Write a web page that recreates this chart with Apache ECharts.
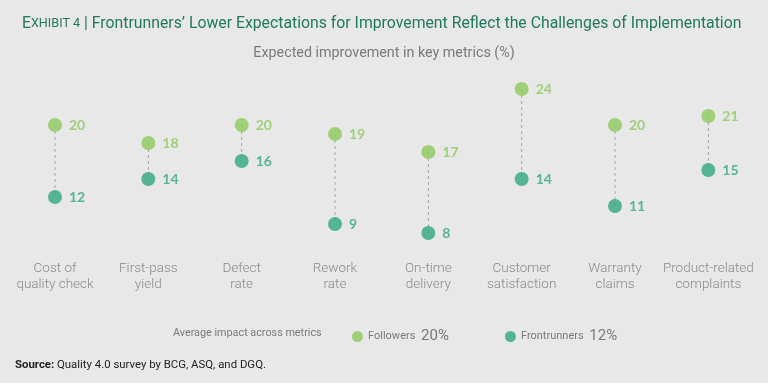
<!DOCTYPE html>
<html>
<head>
<meta charset="utf-8">
<script src="https://cdn.jsdelivr.net/npm/echarts@6/dist/echarts.min.js"></script>
<style>
html,body{margin:0;padding:0;background:#fff;}
#chart{width:768px;height:383px;}
</style>
</head>
<body>
<div id="chart"></div>
<script>
const categories = ['Cost of\nquality check', 'First-pass\nyield', 'Defect\nrate', 'Rework\nrate', 'On-time\ndelivery', 'Customer\nsatisfaction', 'Warranty\nclaims', 'Product-related\ncomplaints'];
const followers = [20, 18, 20, 19, 17, 24, 20, 21];
const frontrunners = [12, 14, 16, 9, 8, 14, 11, 15];
const followersAvg = 20;
const frontrunnersAvg = 12;

const FONT = 'Roboto';
const cFollow = '#8cc85a';
const cFront = '#30a681';
const avgMap = { 'Followers': followersAvg, 'Frontrunners': frontrunnersAvg };

const chart = echarts.init(document.getElementById('chart'));
chart.setOption({
  backgroundColor: '#e8e8e9',
  animation: false,
  textStyle: { fontFamily: FONT },
  title: [{
    left: 17, top: 11,
    text: '{e|E}{s|XHIBIT 4}{b| | }{t|Frontrunners’ Lower Expectations for Improvement Reflect the Challenges of Implementation}',
    textStyle: {
      fontWeight: 'normal',
      rich: {
        e: { fontFamily: FONT, fontSize: 15.8, fontWeight: 'normal', color: '#1f7a5c' },
        s: { fontFamily: FONT, fontSize: 12.6, fontWeight: 'normal', color: '#1f7a5c' },
        b: { fontFamily: FONT, fontSize: 15.8, fontWeight: 'normal', color: '#1f7a5c' },
        t: { fontFamily: FONT, fontSize: 15.8, fontWeight: 'normal', color: '#1f7a5c' }
      }
    }
  }, {
    left: 'center', top: 41,
    text: 'Expected improvement in key metrics (%)',
    textStyle: { fontFamily: FONT, fontSize: 14.3, fontWeight: 'normal', color: '#7a7a7a' }
  }],
  grid: { left: 8.33, right: 13, top: 71, bottom: 132 },
  xAxis: {
    type: 'category', data: categories,
    axisLine: { show: false }, axisTick: { show: false }, splitLine: { show: false },
    axisLabel: { color: '#8a8a8a', fontSize: 13.5, lineHeight: 16, margin: 10, interval: 0, fontFamily: FONT, fontWeight: 300 }
  },
  yAxis: { type: 'value', min: 6, max: 26, show: false },
  legend: {
    left: 347, top: 324, itemWidth: 11, itemHeight: 11, itemGap: 56, icon: 'circle',
    data: ['Followers', 'Frontrunners'],
    formatter: name => name + ' {v|' + avgMap[name] + '%}',
    textStyle: {
      fontFamily: FONT, fontSize: 11, color: '#7a7a7a',
      rich: { v: { fontFamily: FONT, fontSize: 15, color: '#7a7a7a', padding: [0, 0, 0, 3] } }
    }
  },
  graphic: [{
    type: 'text', left: 173, top: 328,
    style: { text: 'Average impact across metrics', font: '10.8px Roboto', fill: '#7a7a7a' }
  }, {
    type: 'text', left: 15, top: 360,
    style: {
      text: '{b|Source:} Quality 4.0 survey by BCG, ASQ, and DGQ.',
      rich: {
        b: { fontFamily: FONT, fontSize: 11.4, fontWeight: 'bold', fill: '#222' }
      },
      font: '11.4px Roboto', fill: '#222'
    }
  }],
  series: [{
    type: 'custom', z: 1, silent: true,
    data: categories.map((c, i) => [i, followers[i], frontrunners[i]]),
    encode: { x: 0, y: [1, 2] },
    renderItem: function (params, api) {
      const p1 = api.coord([api.value(0), api.value(1)]);
      const p2 = api.coord([api.value(0), api.value(2)]);
      return { type: 'line', shape: { x1: p1[0], y1: p1[1], x2: p2[0], y2: p2[1] },
        style: { stroke: '#a5a5a5', lineWidth: 1, lineDash: [3, 3] } };
    }
  }, {
    name: 'Followers', type: 'scatter', z: 3, symbolSize: 14, data: followers,
    itemStyle: { color: cFollow },
    label: { show: true, position: 'right', distance: 7, color: cFollow, fontSize: 14, fontWeight: 'bold', fontFamily: 'Lato' }
  }, {
    name: 'Frontrunners', type: 'scatter', z: 3, symbolSize: 14, data: frontrunners,
    itemStyle: { color: cFront },
    label: { show: true, position: 'right', distance: 7, color: cFront, fontSize: 14, fontWeight: 'bold', fontFamily: 'Lato' }
  }]
});
</script>
</body>
</html>
